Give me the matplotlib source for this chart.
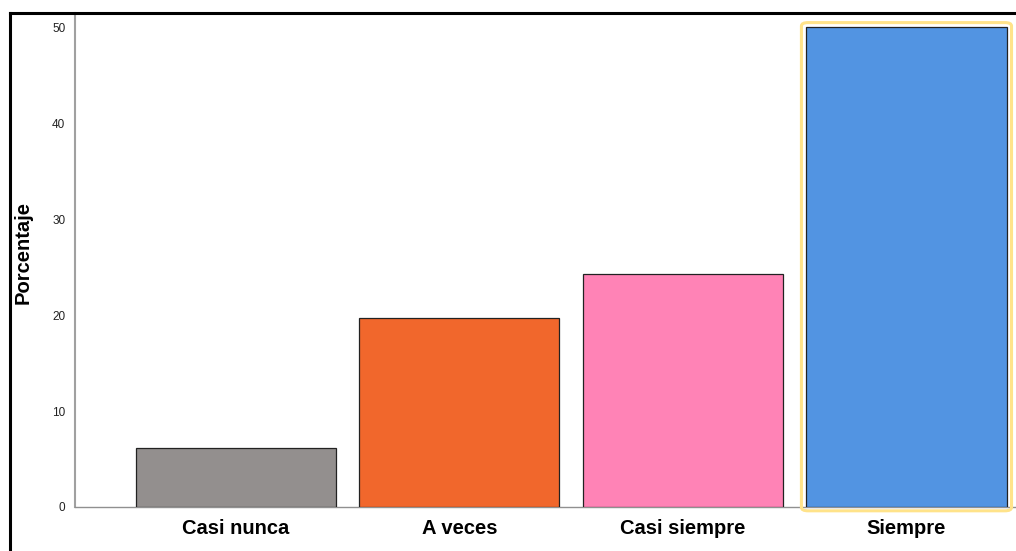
import matplotlib.pyplot as plt
from matplotlib.patches import FancyBboxPatch
from matplotlib.lines import Line2D

# Data.
categories = ['Casi nunca', 'A veces', 'Casi siempre', 'Siempre']
percentages = [6.1, 19.7, 24.3, 50.0]
bar_colors = ['#938F8E', '#F1672C', '#FF83B6', '#5294E2']

plt.rcParams['font.family'] = ['Liberation Sans', 'DejaVu Sans']

fig = plt.figure(figsize=(10.16, 5.51), dpi=100)
ax = fig.add_axes([0.0738, 0.0799, 0.9262, 0.8965])

x = range(len(categories))
ax.bar(x, percentages, width=0.895, color=bar_colors,
       edgecolor='#222222', linewidth=0.9, zorder=3)

# Yellow highlight around the last bar.
hl = FancyBboxPatch((3 - 0.47, -0.4), 0.94, percentages[3] + 0.9,
                    boxstyle='round,pad=0,rounding_size=0.03',
                    fill=False, edgecolor='#FFE38A', linewidth=2.2,
                    zorder=4, mutation_aspect=12, clip_on=False)
ax.add_patch(hl)

ax.set_xlim(-0.72, 3.49)
ax.set_ylim(0, 51.5)
ax.set_yticks([0, 10, 20, 30, 40, 50])
ax.set_xticks(list(x))
ax.set_xticklabels(categories, fontsize=14.5, fontweight='bold')
ax.tick_params(axis='y', length=0, labelsize=8.5, pad=7, labelcolor='#222222')
ax.tick_params(axis='x', length=0, pad=9)
ax.set_ylabel('Porcentaje', fontsize=14.5, fontweight='bold')
ax.yaxis.set_label_coords(-0.045, 0.516)

for side in ['top', 'right']:
    ax.spines[side].set_visible(False)
ax.spines['left'].set_color('#A0A0A0')
ax.spines['left'].set_linewidth(1.5)
ax.spines['bottom'].set_color('#909090')
ax.spines['bottom'].set_linewidth(1.0)

# Black frame along top and left edge of the picture.
fig.add_artist(Line2D([0.0098, 1.0], [0.976, 0.976], color='black',
                      linewidth=2.2, transform=fig.transFigure))
fig.add_artist(Line2D([0.0098, 0.0098], [0.0, 0.976], color='black',
                      linewidth=2.2, transform=fig.transFigure))

fig.savefig('out.png', dpi=100)
